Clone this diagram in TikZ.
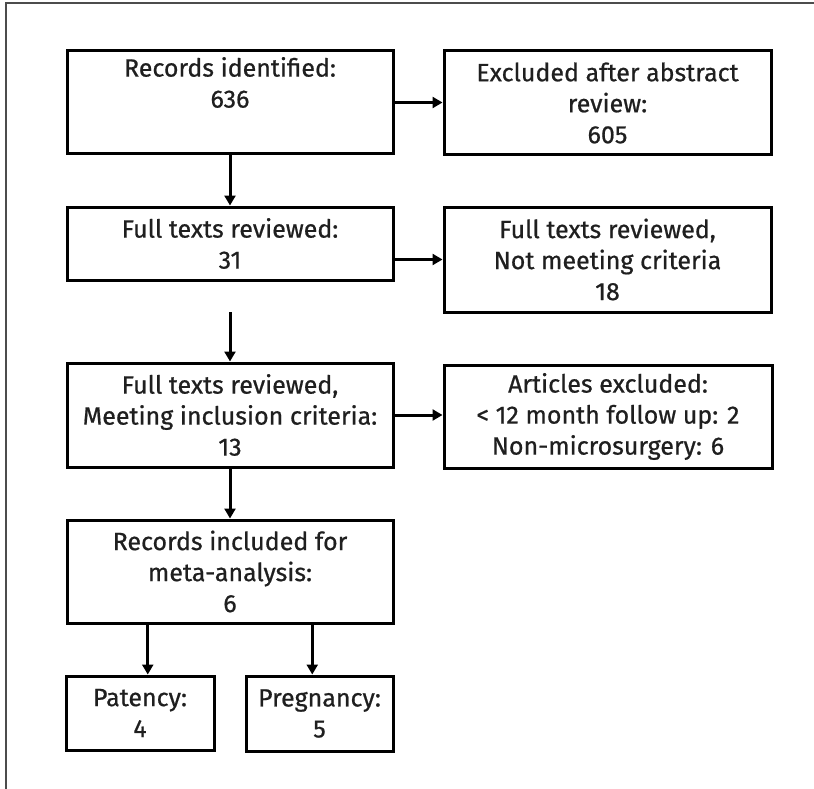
\documentclass[tikz,border=0pt]{standalone}
\usepackage{fontspec}
\setmainfont{Fira Sans}[FakeBold=0.7]
\usetikzlibrary{arrows.meta}
\begin{document}
\begin{tikzpicture}[x=1pt,y=-1pt,
  box/.style={draw=black, line width=3pt, inner sep=0pt, align=center,
    font=\fontsize{25}{31}\selectfont, text=black!88},
  arr/.style={line width=3pt, -{Triangle[length=10pt,width=11pt]}},
  frameline/.style={draw=black!70, line width=1.5pt}]
\useasboundingbox (0,0) rectangle (814,789);
\draw[frameline] (6,789) -- (6,3) -- (814,3);

\node[box, minimum width=326pt, minimum height=103pt] (b1) at (230,102.5) {Records identified:\\636\\ \strut};
\node[box, minimum width=327pt, minimum height=104pt] (e1) at (607.5,103) {Excluded after abstract\\review:\\605};
\node[box, minimum width=326pt, minimum height=73pt] (b2) at (230,243.5) {Full texts reviewed:\\31};
\node[box, minimum width=327pt, minimum height=105pt] (e2) at (607.5,259.5) {Full texts reviewed,\\Not meeting criteria\\18};
\node[box, minimum width=326pt, minimum height=104pt] (b3) at (230,415) {Full texts reviewed,\\Meeting inclusion criteria:\\13};
\node[box, minimum width=328pt, minimum height=103pt] (e3) at (608,416.5) {Articles excluded:\\< 12 month follow up: 2\\Non-microsurgery: 6};
\node[box, minimum width=326pt, minimum height=103pt] (b4) at (230,571.5) {Records included for\\meta-analysis:\\6};
\node[box, minimum width=148pt, minimum height=74pt] (p1) at (140,713) {Patency:\\4};
\node[box, minimum width=147pt, minimum height=75pt] (p2) at (319.5,713.5) {Pregnancy:\\5};

\coordinate (g) at (230,312);
\path (b4.south west) -- (b4.south east) coordinate[pos=0.25] (q1) coordinate[pos=0.75] (q2);

\draw[arr] (b1.east) -- (b1.east -| e1.west);
\draw[arr] (b1.south) -- (b2.north);
\draw[arr] (b2.east |- e2.west) -- (e2.west);
\draw[arr] (g) -- (b3.north);
\draw[arr] (b3.east) -- (b3.east -| e3.west);
\draw[arr] (b3.south) -- (b4.north);
\draw[arr] (q1) -- (q1 |- p1.north);
\draw[arr] (q2) -- (q2 |- p2.north);
\end{tikzpicture}
\end{document}
